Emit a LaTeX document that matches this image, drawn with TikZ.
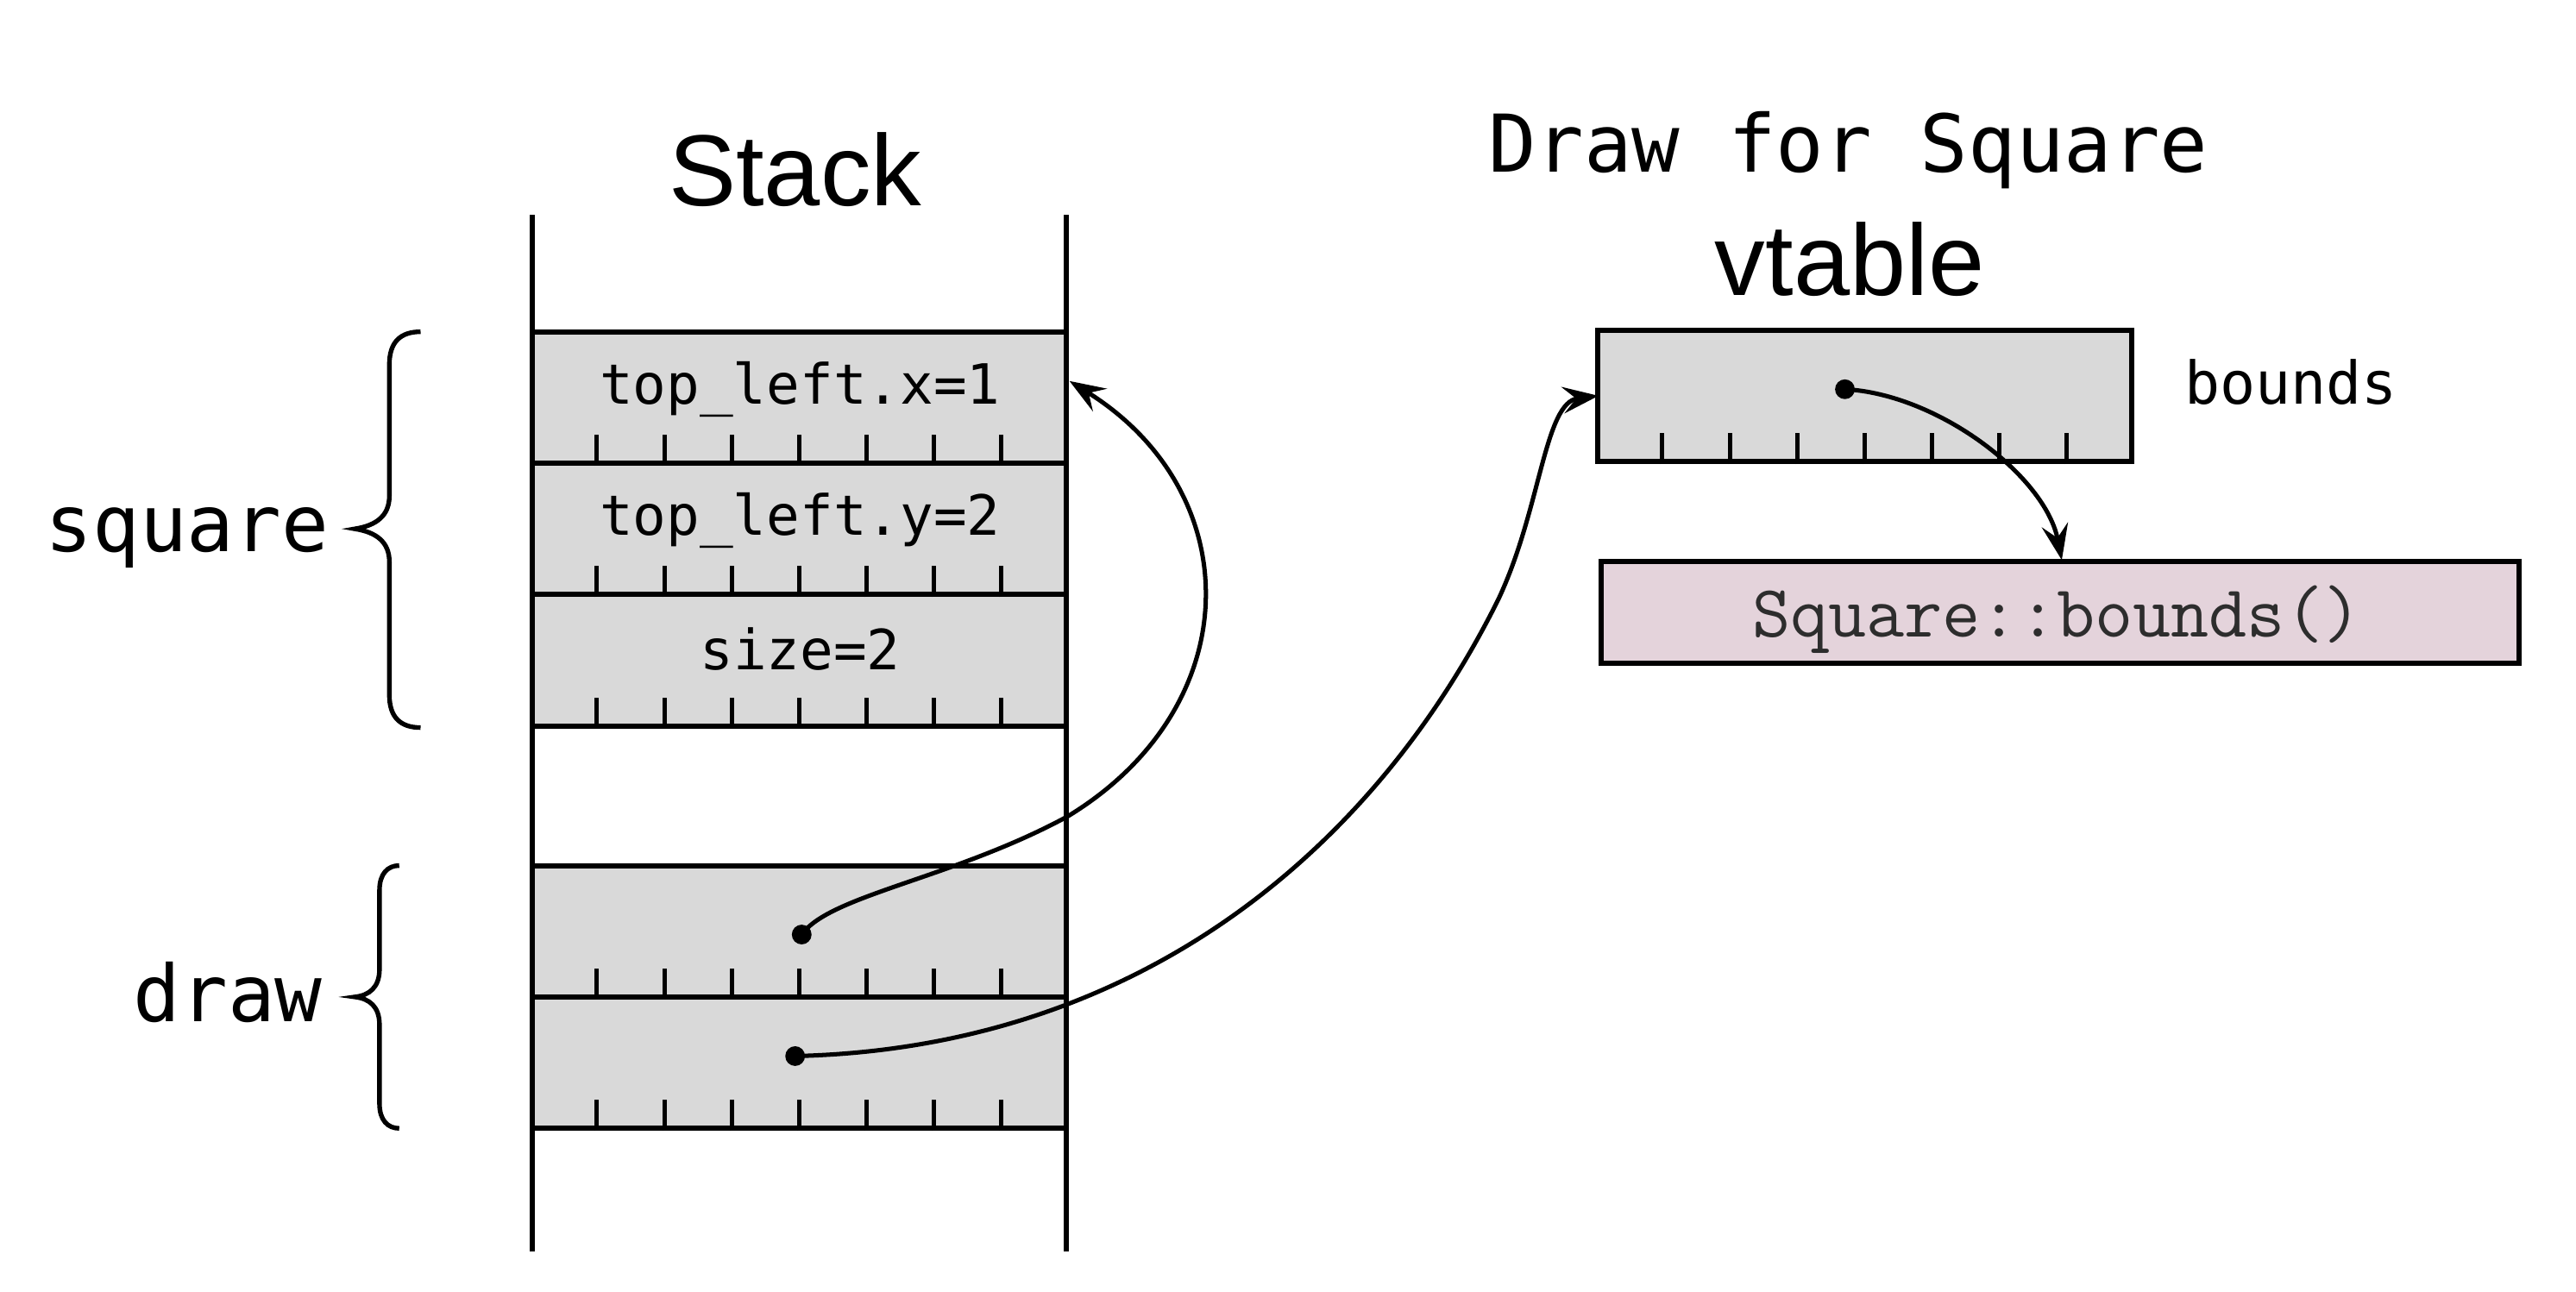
\documentclass[tikz,border=0pt]{standalone}
\usepackage{fontspec}
\setmainfont{Liberation Sans}
\newfontfamily\dvm{DejaVu Sans Mono}
\usetikzlibrary{arrows.meta,calc}
\definecolor{cellgray}{RGB}{217,217,217}
\definecolor{pinkfill}{RGB}{228,211,219}
\definecolor{codegray}{RGB}{45,45,45}
\tikzset{
  cell/.style={draw, fill=cellgray, line width=0.9pt, minimum width=3.25cm, minimum height=0.8cm, inner sep=0pt},
  celltext/.style={font=\dvm\fontsize{9.6pt}{11pt}\selectfont, anchor=base, inner sep=0pt},
  sidelabel/.style={font=\dvm\fontsize{13.6pt}{16pt}\selectfont, anchor=base east, inner sep=0pt},
  title/.style={font=\fontsize{17.5pt}{20pt}\selectfont, anchor=base, inner sep=0pt},
  ptr/.style={line width=0.75pt, -{Stealth[length=6.2pt,width=4.6pt,inset=2.3pt]}},
  dotc/.style={circle, fill=black, inner sep=0pt, minimum size=0.12cm},
  tick/.style={line width=0.75pt},
  brace/.style={line width=0.8pt},
}
\begin{document}
\begin{tikzpicture}[x=0.01cm, y=-0.01cm]
\useasboundingbox (0,0) rectangle (1568,786.6);
% stack walls
\coordinate (wlt) at (324,131);
\coordinate (wlb) at (324,762);
\coordinate (wrt) at (649,131);
\coordinate (wrb) at (649,762);
\draw[line width=0.9pt] (wlt) -- (wlb);
\draw[line width=0.9pt] (wrt) -- (wrb);
% titles
\node[title] (stack) at (484,125) {Stack};
\node[font=\dvm\fontsize{13.8pt}{16pt}\selectfont, anchor=base, inner sep=0pt] (dfs) at (1125,105) {Draw for Square};
\node[title] (vtab) at (1126,180) {vtable};
% cells
\node[cell] (c1) at (486.5,242) {};
\node[cell] (c2) at (486.5,322) {};
\node[cell] (c3) at (486.5,402) {};
\node[cell] (c4) at (486.5,567) {};
\node[cell] (c5) at (486.5,647) {};
\node[cell] (vt) at (1135,241) {};
\node[draw, fill=pinkfill, line width=0.9pt, minimum width=5.58cm, minimum height=0.62cm, inner sep=0pt] (fn) at (1254,373) {};
% ticks
\foreach \c in {c1,c2,c3,c4,c5,vt}{
  \foreach \k in {1,...,7}{
    \draw[tick] ($(\c.south west)!\k/8!(\c.south east)$) -- ++(0,-19);
  }
}
% texts
\node[celltext] (t1) at (487,246) {top\_left.x=1};
\node[celltext] (t2) at (487,326) {top\_left.y=2};
\node[celltext] (t3) at (487,408) {size=2};
\node[font=\dvm\fontsize{10.2pt}{12pt}\selectfont, anchor=base west, inner sep=0pt] (bnd) at (1329,246) {bounds};
\node[font=\ttfamily\fontsize{12.8pt}{14pt}\selectfont, text=codegray, anchor=base, inner sep=0pt] (fnt) at (1252,388) {Square::bounds()};
\node[sidelabel] (lsq) at (201,336) {square};
\node[sidelabel] (ldr) at (197,622) {draw};
% braces
\draw[brace] (256,202) .. controls (244,202) and (237,208) .. (237,222) -- (237,302)
  .. controls (237,314) and (229,320) .. (216,322)
  .. controls (229,324) and (237,330) .. (237,342) -- (237,423)
  .. controls (237,437) and (244,443) .. (256,443);
\draw[brace] (243,527) .. controls (236,527) and (231,532) .. (231,542) -- (231,590)
  .. controls (231,601) and (225,606) .. (216,607)
  .. controls (225,608) and (231,613) .. (231,624) -- (231,672)
  .. controls (231,682) and (236,687) .. (243,687);
% pointers
\node[dotc] (d1) at (488,569) {};
\node[dotc] (d2) at (484,643) {};
\node[dotc] (d3) at (1123,237) {};
\coordinate (a1) at (651,232);
\coordinate (a2) at (973,241);
\coordinate (a3) at (1255,341);
\draw[ptr] (d1.center) .. controls (505,545) and (580,535) .. (650,497)
  .. controls (760,430) and (760,300) .. (a1);
\draw[ptr] (d2.center) .. controls (700,638) and (840,510) .. (912,365)
  .. controls (938,310) and (940,245) .. (a2);
\draw[ptr] (d3.center) .. controls (1180,240) and (1245,290) .. (a3);
\end{tikzpicture}
\end{document}
